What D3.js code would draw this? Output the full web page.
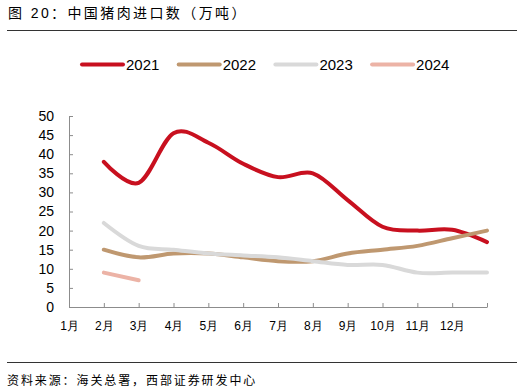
<!DOCTYPE html>
<html>
<head>
<meta charset="utf-8">
<style>
    body { margin: 0; background: #fff; }
    svg { display: block; font-family: "Liberation Sans", "Noto Sans CJK SC", sans-serif; }
    .axis path, .axis line { stroke: #8c8c8c; }
    .axis text { fill: #000; }
    .series { fill: none; stroke-width: 4px; stroke-linecap: round; stroke-linejoin: round; }
</style>
</head>
<body>
<script src="https://cdn.jsdelivr.net/npm/d3@7"></script>
<script>
// month tick labels
var months = ["1月", "2月", "3月", "4月", "5月", "6月", "7月", "8月", "9月", "10月", "11月", "12月"];
var yTicks = [0, 5, 10, 15, 20, 25, 30, 35, 40, 45, 50];

// monthly pork imports, 10k tonnes
var y2021 = [38, 32.5, 45.5, 43, 37.5, 34, 35, 28, 21, 20, 20.2, 17];
var y2022 = [15, 13, 14, 14, 13, 12, 12, 14, 15, 16, 18, 20];
var y2023 = [22, 16, 15, 14, 13.5, 13, 12, 11, 11, 9, 9, 9];
var y2024 = [9, 7];

var seriesNames = ["2021", "2022", "2023", "2024"];
var seriesValues = [y2021, y2022, y2023, y2024];
var colors = ["#c8101f", "#bf9870", "#d9d9d9", "#ecb3a6"];

var W = 527, H = 392;
var margin = { top: 116, right: 40, bottom: 85, left: 69 },
    width = 487 - margin.left,
    height = 307 - margin.top;

var svg = d3.select("body").append("svg")
    .attr("width", W)
    .attr("height", H);

svg.append("rect").attr("width", W).attr("height", H).attr("fill", "#fff");

// title + rules
svg.append("text")
    .attr("x", 8).attr("y", 18)
    .style("font-size", "14px")
    .style("letter-spacing", "2.4px")
    .text("图 20：中国猪肉进口数（万吨）");

svg.append("line")
    .attr("x1", 7).attr("x2", 517).attr("y1", 30.5).attr("y2", 30.5)
    .attr("stroke", "#333").attr("stroke-width", 1.2);

svg.append("line")
    .attr("x1", 7).attr("x2", 517).attr("y1", 362.5).attr("y2", 362.5)
    .attr("stroke", "#333").attr("stroke-width", 1.2);

svg.append("text")
    .attr("x", 7).attr("y", 385)
    .style("font-size", "12px")
    .style("letter-spacing", "1.9px")
    .text("资料来源：海关总署，西部证券研发中心");

var g = svg.append("g")
    .attr("transform", "translate(" + margin.left + "," + margin.top + ")");

var x = d3.scaleLinear().domain([0, 12]).range([0, width]);
var y = d3.scaleLinear().domain([0, 50]).range([height, 0]);

var xAxis = d3.axisBottom(x)
    .tickValues(d3.range(0, 13))
    .tickSizeInner(-4)
    .tickSizeOuter(0)
    .tickFormat(function(d) { return months[d] || ""; });

var yAxis = d3.axisLeft(y)
    .tickValues(yTicks)
    .tickSizeInner(-4)
    .tickSizeOuter(0);

g.append("g")
    .attr("class", "axis x")
    .attr("transform", "translate(0," + height + ")")
    .call(xAxis)
    .selectAll("text")
    .attr("y", 14)
    .style("font-size", "12px");

g.append("g")
    .attr("class", "axis y")
    .call(yAxis)
    .selectAll("text")
    .attr("x", -15)
    .style("font-size", "14px");

var line = d3.line()
    .x(function(d, i) { return x(i + 1); })
    .y(function(d) { return y(d); })
    .curve(d3.curveCardinal.tension(0));

seriesValues.forEach(function(vals, k) {
    g.append("path")
        .datum(vals)
        .attr("class", "series")
        .attr("stroke", colors[k])
        .attr("d", line);
});

// legend
var legend = svg.append("g");
seriesNames.forEach(function(name, k) {
    var lx = 82 + k * 96.7;
    legend.append("line")
        .attr("x1", lx).attr("x2", lx + 41)
        .attr("y1", 64.5).attr("y2", 64.5)
        .attr("stroke", colors[k])
        .attr("stroke-width", 4)
        .attr("stroke-linecap", "round");
    legend.append("text")
        .attr("x", lx + 44).attr("y", 70)
        .style("font-size", "15px")
        .text(name);
});
</script>
</body>
</html>
